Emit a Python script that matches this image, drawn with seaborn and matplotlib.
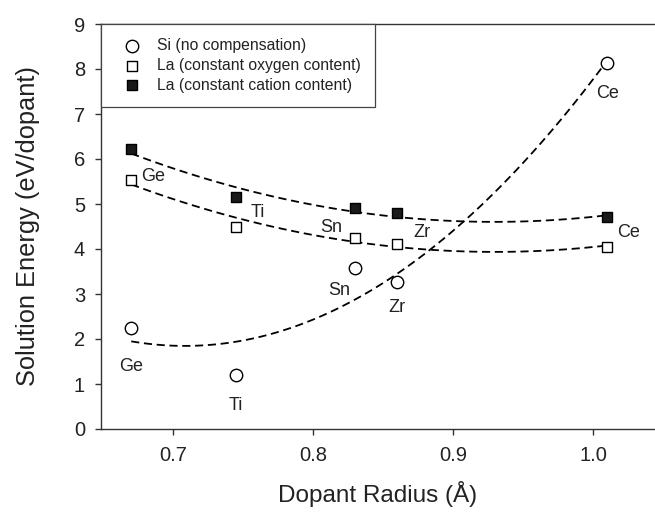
import matplotlib
matplotlib.use("Agg")
import matplotlib.pyplot as plt
import seaborn as sns
import numpy as np
import pandas as pd

# ---- data ----
dopants = ["Ge", "Ti", "Sn", "Zr", "Ce"]
radius = [0.67, 0.745, 0.83, 0.86, 1.01]
si_energy = [2.24, 1.20, 3.57, 3.27, 8.13]
la_oxygen = [5.53, 4.48, 4.24, 4.11, 4.05]
la_cation = [6.22, 5.15, 4.90, 4.79, 4.72]

series_labels = ["Si (no compensation)",
                 "La (constant oxygen content)",
                 "La (constant cation content)"]
x_ticks = [0.7, 0.8, 0.9, 1.0]
y_ticks = list(range(0, 10))

sns.set_theme(style="ticks")
plt.rcParams["font.family"] = ["Liberation Sans", "DejaVu Sans"]

fig = plt.figure(figsize=(6.55, 5.12), dpi=100)
ax = fig.add_axes([101/655, 83/512, 554/655, 405/512])

df = pd.DataFrame({"r": radius, "si": si_energy, "lo": la_oxygen, "lc": la_cation})

line_kws = dict(color="black", lw=1.3, dashes=(4.5, 2.6))
for col in ["si", "lo", "lc"]:
    sns.regplot(data=df, x="r", y=col, order=2, ci=None, scatter=False,
                truncate=True, ax=ax, line_kws=line_kws)

sns.scatterplot(data=df, x="r", y="si", marker="o", s=80, color="white",
                edgecolor="black", linewidth=1.0, ax=ax, label=series_labels[0], zorder=5)
sns.scatterplot(data=df, x="r", y="lo", marker="s", s=60, color="white",
                edgecolor="black", linewidth=1.0, ax=ax, label=series_labels[1], zorder=5)
sns.scatterplot(data=df, x="r", y="lc", marker="s", s=60, color="#1a1a1a",
                edgecolor="black", linewidth=1.0, ax=ax, label=series_labels[2], zorder=5)

# point labels (offsets in pixels)
si_off = [(0, -38), (0, -31), (-16, -22), (0, -26), (0, -30)]
sq_off = [(22, 4), (22, -15), (-24, -19), (25, -19), (21, -16)]
sq_ref = [la_oxygen[0], la_cation[1], la_cation[2], la_cation[3], la_cation[4]]
for i, name in enumerate(dopants):
    ax.annotate(name, (radius[i], si_energy[i]), xytext=si_off[i],
                textcoords="offset pixels", ha="center", va="center",
                fontsize=13, color="#222222")
    ax.annotate(name, (radius[i], sq_ref[i]), xytext=sq_off[i],
                textcoords="offset pixels", ha="center", va="center",
                fontsize=13, color="#222222")

ax.set_xlim(0.6484, 1.0441)
ax.set_ylim(0, 9)
ax.set_xticks(x_ticks)
ax.set_xticklabels([f"{v:.1f}" for v in x_ticks])
ax.set_yticks(y_ticks)
ax.tick_params(axis="both", direction="out", length=4.5, width=1, colors="#333333",
               labelsize=14.5, labelcolor="#222222")
ax.tick_params(axis="y", pad=7)
ax.tick_params(axis="x", pad=8)
for side in ["left", "bottom", "top"]:
    ax.spines[side].set_color("#333333")
    ax.spines[side].set_linewidth(1.0)
ax.spines["right"].set_visible(False)

ax.set_xlabel("Dopant Radius (Å)", fontsize=17.5, color="#222222", labelpad=11)
ax.set_ylabel("Solution Energy (eV/dopant)", fontsize=18.3, color="#222222", labelpad=24)

leg = ax.legend(loc="upper left", bbox_to_anchor=(0, 1), borderaxespad=0,
                fancybox=False, framealpha=1, edgecolor="#444444", fontsize=11.3,
                borderpad=0.9, handletextpad=0.48, labelspacing=0.3,
                handlelength=2.2)
leg.get_frame().set_linewidth(0.9)
for t in leg.get_texts():
    t.set_color("#222222")

fig.savefig("out.png", dpi=100)
